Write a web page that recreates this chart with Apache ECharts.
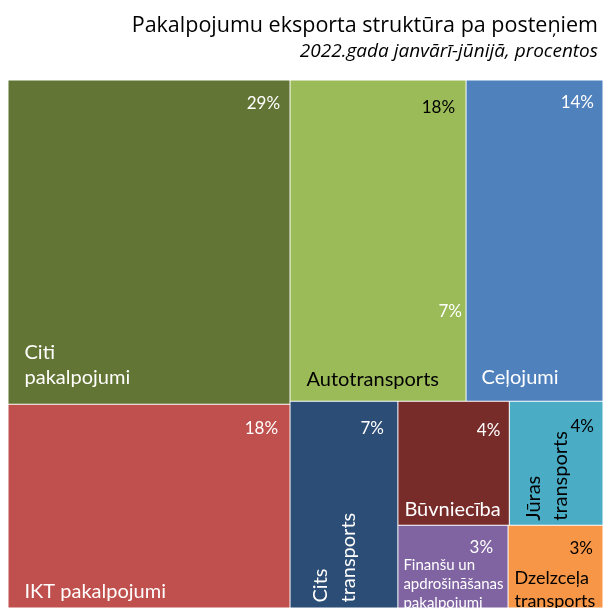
<!DOCTYPE html>
<html>
<head>
<meta charset="utf-8">
<script src="https://cdn.jsdelivr.net/npm/echarts@6/dist/echarts.min.js"></script>
<style>
  html, body { margin: 0; padding: 0; background: #fff; }
  #chart-container { width: 603px; height: 608px; }
</style>
</head>
<body>
<div id="chart-container"></div>
<script>
var dom = document.getElementById("chart-container");
var myChart = echarts.init(dom, null, { renderer: "canvas" });

// Pakalpojumu eksporta daļas, %
var names = [
  "Citi\npakalpojumi",
  "IKT pakalpojumi",
  "Autotransports",
  "Ceļojumi",
  "Cits\ntransports",
  "Būvniecība",
  "Jūras\ntransports",
  "Finanšu un\napdrošināšanas\npakalpojumi",
  "Dzelzceļa\ntransports",
];
var values = [29.1, 18.3, 18.0, 14.0, 7.1, 4.4, 3.7, 2.9, 2.5];
var colors = ["#637534", "#c0504d", "#9bbb59", "#4f81bd", "#2c4d75", "#772c2a", "#4bacc6", "#8064a2", "#f79646"];
// small items kept together in one block (bottom right)
var blockItems = [5, 6, 7, 8];

var font = "Lato";
var titleFont = "Open Sans";
var dark = "#000";

// name label placement per item (offset of rotated labels is in the rotated frame)
var nameLabels = [
  { position: "insideBottomLeft", verticalAlign: "bottom", offset: [16, -14] },
  { position: "insideBottomLeft", verticalAlign: "bottom", offset: [16, -3] },
  { position: "insideBottomLeft", verticalAlign: "bottom", offset: [16, -9], color: dark },
  { position: "insideBottomLeft", verticalAlign: "bottom", offset: [15, -11] },
  { position: "insideBottomLeft", verticalAlign: "top", rotate: 90, lineHeight: 28, offset: [5, 16] },
  { position: "insideBottomLeft", verticalAlign: "bottom", offset: [6, -3] },
  { position: "insideBottomLeft", verticalAlign: "top", rotate: 90, lineHeight: 27, offset: [4, 10], color: dark },
  { position: "insideTopLeft", verticalAlign: "top", fontSize: 15, lineHeight: 19, offset: [5, 30] },
  { position: "insideTopLeft", verticalAlign: "top", fontSize: 18, lineHeight: 23, offset: [6, 41], color: dark },
];
var pctOffsets = [[-10, 14], [-12, 14], [-11, 18], [-9, 13], [-14, 17], [-9, 19], [-9, 15], [-15, 12], [-10, 13]];
var pctDark = [2, 6, 8];

function leaf(i, forPct) {
  var item = { name: names[i], value: values[i] };
  if (forPct) {
    item.itemStyle = { color: "rgba(0,0,0,0)", borderWidth: 0 };
    item.label = {
      position: "insideTopRight",
      align: "right",
      verticalAlign: "top",
      offset: pctOffsets[i],
      color: pctDark.indexOf(i) >= 0 ? dark : "#fff",
    };
  } else {
    item.itemStyle = { color: colors[i], borderWidth: 0.5, borderColor: "rgba(255,255,255,0.8)" };
    item.label = Object.assign({ align: "left", color: "#fff" }, nameLabels[i]);
  }
  return item;
}

function buildData(forPct) {
  var data = [];
  var block = { name: "", children: [] };
  for (var i = 0; i < names.length; i++) {
    if (blockItems.indexOf(i) >= 0) {
      block.children.push(leaf(i, forPct));
    } else {
      data.push(leaf(i, forPct));
    }
  }
  block.value = block.children.reduce(function (s, c) { return s + c.value; }, 0);
  data.push(block);
  return data;
}

var base = {
  type: "treemap",
  left: 8,
  top: 80,
  width: 595,
  height: 528,
  squareRatio: 1.3,
  sort: false,
  roam: false,
  nodeClick: false,
  breadcrumb: { show: false },
  animation: false,
};

var option = {
  textStyle: { fontFamily: font },
  title: {
    text: "Pakalpojumu eksporta struktūra pa posteņiem",
    subtext: "2022.gada janvārī-jūnijā, procentos",
    right: "right",
    top: 10,
    itemGap: 5,
    textStyle: { fontFamily: titleFont, fontSize: 21.5, fontWeight: "normal", color: "#000" },
    subtextStyle: { fontFamily: titleFont, fontSize: 19, fontStyle: "italic", color: "#000" },
  },
  graphic: [
    {
      type: "text",
      right: 141,
      top: 303,
      z: 100,
      style: { text: "7%", fill: "#fff", font: "17px " + font },
    },
  ],
  series: [
    Object.assign({}, base, {
      itemStyle: { borderWidth: 0, gapWidth: 0, borderColor: "#fff" },
      label: { show: true, padding: 0, distance: 0, overflow: "none", fontSize: 20, lineHeight: 25, fontFamily: font },
      data: buildData(false),
    }),
    Object.assign({}, base, {
      silent: true,
      itemStyle: { color: "rgba(0,0,0,0)", borderWidth: 0, gapWidth: 0, borderColor: "rgba(0,0,0,0)" },
      label: {
        show: true, padding: 0, distance: 0, overflow: "none", fontSize: 17, lineHeight: 20, fontFamily: font,
        formatter: function (p) { return Math.round(p.value) + "%"; },
      },
      data: buildData(true),
    }),
  ],
};

myChart.setOption(option);
window.addEventListener("resize", myChart.resize);
</script>
</body>
</html>
